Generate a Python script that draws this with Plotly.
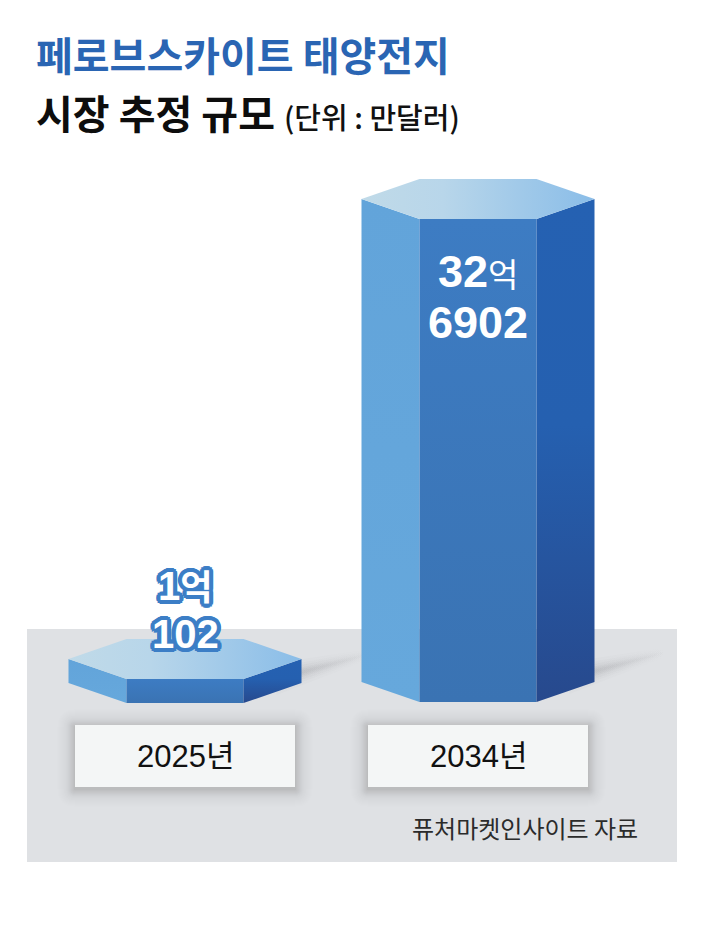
# Perovskite solar cell market size, hexagonal prism infographic
import plotly.graph_objects as go

# Data
years = ["2025년", "2034년"]
value_line1 = [
    "1<span style=\"font-size:35px\">억</span>",
    "32<span style=\"font-size:33px;font-weight:400\">억</span>",
]
value_line2 = ["102", "6902"]
drawn_heights = [24, 483]

title_line1 = "페로브스카이트 태양전지"
title_line2 = "시장 추정 규모"
unit_text = "(단위 : 만달러)"
source_text = "퓨처마켓인사이트 자료"

# Page geometry, in screen pixels
W, H = 711, 941
BAR_CENTERS = [185, 478]
BASELINES = [703, 702]
HALF_FRONT = 58.5
HALF_FULL = 116.5
RISE = 20
LABEL_HALF_W = 110
LABEL_TOP, LABEL_BOTTOM = 725, 787
FONT = "'Liberation Sans', 'Noto Sans CJK KR', sans-serif"
KR_FONT = "'Noto Sans CJK KR', sans-serif"

fig = go.Figure()


def add_face(xs, ys, gradient):
    fig.add_trace(
        go.Scatter(
            x=xs + xs[:1],
            y=ys + ys[:1],
            mode="lines",
            line=dict(width=0),
            fill="toself",
            fillgradient=gradient,
            hoverinfo="skip",
            showlegend=False,
        )
    )


def vertical(top, bottom, stops):
    return dict(type="vertical", start=top, stop=bottom, colorscale=stops)


def add_streak(x0, y0, length, rise):
    # soft shadow thrown to the right of a prism
    for spread, alpha in [(16, 0.03), (12, 0.04), (9, 0.05), (6, 0.06), (4, 0.06), (2, 0.06)]:
        start = x0 - 25
        xs = [start, x0 + length, x0 + length, start]
        ys = [y0 - spread, y0 - rise - spread * 0.3, y0 - rise + spread * 0.3, y0 + spread]
        grad = dict(
            type="horizontal",
            start=x0,
            stop=x0 + length,
            colorscale=[[0, f"rgba(110,110,115,{alpha})"], [1, "rgba(110,110,115,0)"]],
        )
        add_face(xs, ys, grad)


def add_prism(cx, base, height):
    top = base - height
    lx, rx = cx - HALF_FULL, cx + HALF_FULL
    flx, frx = cx - HALF_FRONT, cx + HALF_FRONT
    back = top - 2 * RISE
    mid = top - RISE
    side_bottom = base - RISE
    # left face
    add_face(
        [lx, flx, flx, lx],
        [mid, top, base, side_bottom],
        vertical(mid, base, [[0, "#62a4da"], [1, "#66a8dc"]]),
    )
    # front face
    add_face(
        [flx, frx, frx, flx],
        [top, top, base, base],
        vertical(top, base, [[0, "#3d7cc3"], [1, "#3a73b3"]]),
    )
    # right face
    add_face(
        [frx, rx, rx, frx],
        [top, mid, side_bottom, base],
        vertical(mid, base, [[0, "#2561b2"], [0.45, "#2560b0"], [1, "#27498d"]]),
    )
    # top face
    add_face(
        [lx, flx, frx, rx, frx, flx],
        [mid, back, back, mid, top, top],
        dict(
            type="horizontal",
            start=lx,
            stop=rx,
            colorscale=[[0, "#c0dae8"], [0.35, "#b8d6ea"], [1, "#8abde8"]],
        ),
    )


for cx, base in zip(BAR_CENTERS, BASELINES):
    add_streak(cx + HALF_FULL, base - 24, 72, 26)

for cx, base, height in zip(BAR_CENTERS, BASELINES, drawn_heights):
    add_prism(cx, base, height)


def rounded_rect(x0, y0, x1, y1, r):
    return (
        f"M {x0 + r} {y0} L {x1 - r} {y0} Q {x1} {y0} {x1} {y0 + r} "
        f"L {x1} {y1 - r} Q {x1} {y1} {x1 - r} {y1} "
        f"L {x0 + r} {y1} Q {x0} {y1} {x0} {y1 - r} "
        f"L {x0} {y0 + r} Q {x0} {y0} {x0 + r} {y0} Z"
    )


# Grey floor panel
shapes = [
    dict(type="rect", x0=27, x1=677, y0=629, y1=862, fillcolor="#dfe1e4",
         line_width=0, layer="below")
]

# Year label boxes with a blurred shadow built from stacked rectangles
SHADOW_REACH = 18
for cx in BAR_CENTERS:
    for grow in range(SHADOW_REACH, 0, -1):
        alpha = 0.002 + 0.032 * (1 - grow / SHADOW_REACH) ** 2
        shapes.append(
            dict(type="path",
                 path=rounded_rect(cx - LABEL_HALF_W - grow, LABEL_TOP - grow + 2,
                                   cx + LABEL_HALF_W + grow, LABEL_BOTTOM + grow + 2, grow),
                 fillcolor=f"rgba(70,70,75,{alpha:.4f})", line_width=0, layer="below")
        )
    shapes.append(
        dict(type="rect", x0=cx - LABEL_HALF_W, x1=cx + LABEL_HALF_W,
             y0=LABEL_TOP, y1=LABEL_BOTTOM, fillcolor="#f4f6f6", line_width=0, layer="below")
    )

annotations = [
    dict(x=34, y=54, text=title_line1, xanchor="left",
         font=dict(family=KR_FONT, size=40, color="#2a65b3", weight=700)),
    dict(x=34, y=112, text=title_line2, xanchor="left",
         font=dict(family=KR_FONT, size=40, color="#0d0d0d", weight=700)),
    dict(x=282, y=116, text=unit_text, xanchor="left",
         font=dict(family=KR_FONT, size=29, color="#111111", weight=500)),
    dict(x=640, y=827, text=source_text, xanchor="right",
         font=dict(family=KR_FONT, size=24, color="#2b2b2b", weight=400)),
]

for cx, year in zip(BAR_CENTERS, years):
    annotations.append(
        dict(x=cx, y=756, text=year, font=dict(family=FONT, size=31, color="#111111", weight=400))
    )

# Value labels: the small bar's are outlined because they sit on a light ground
outline = ", ".join(
    f"{dx}px {dy}px 0 #3c7ec6"
    for dx, dy in [(4, 0), (-4, 0), (0, 4), (0, -4), (3, 3), (-3, 3), (3, -3), (-3, -3),
                   (4, 1), (-4, 1), (4, -1), (-4, -1), (1, 4), (-1, 4), (1, -4), (-1, -4),
                   (2, 0), (-2, 0), (0, 2), (0, -2)]
)
label_y = [(586, 634), (271, 322)]
label_size = [40, 45]
for i, cx in enumerate(BAR_CENTERS):
    shadow = outline if i == 0 else "none"
    for text, y in zip((value_line1[i], value_line2[i]), label_y[i]):
        annotations.append(
            dict(x=cx, y=y, text=text,
                 font=dict(family=FONT, size=label_size[i], color="white", weight=700, shadow=shadow))
        )

for a in annotations:
    a.update(xref="x", yref="y", showarrow=False, yanchor="middle")

fig.update_layout(
    width=W,
    height=H,
    margin=dict(l=0, r=0, t=0, b=0),
    paper_bgcolor="white",
    plot_bgcolor="white",
    showlegend=False,
    xaxis=dict(range=[0, W], visible=False, fixedrange=True),
    yaxis=dict(range=[H, 0], visible=False, fixedrange=True),
    shapes=shapes,
    annotations=annotations,
)

fig.write_html(
    "out.html",
    config={"displayModeBar": False},
    post_script="document.body.style.margin='0';",
)
